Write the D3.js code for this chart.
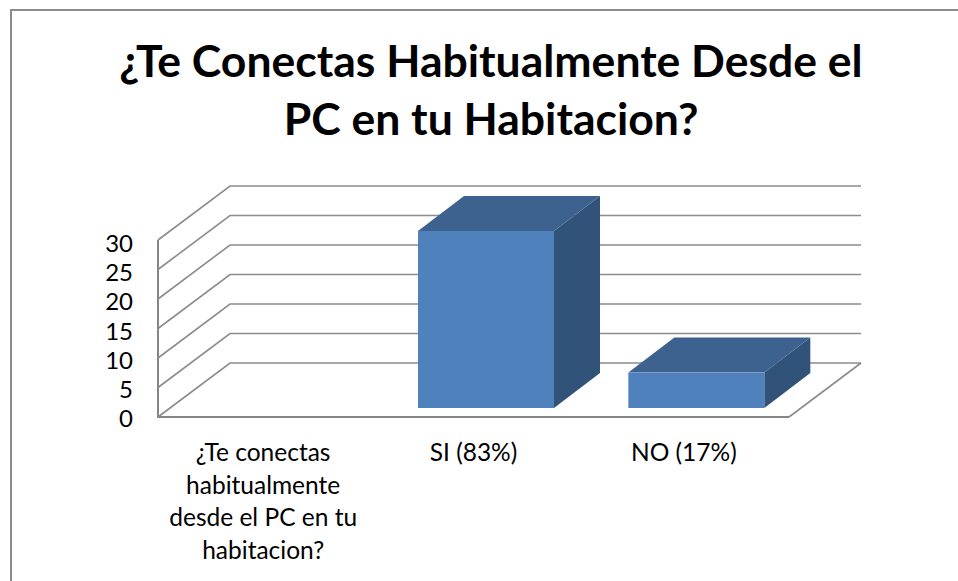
<!DOCTYPE html>
<html>
<head>
<meta charset="utf-8">
<script src="https://cdn.jsdelivr.net/npm/d3@7"></script>
<style>
    html, body { margin: 0; padding: 0; background: #fff; }
    text { font-family: Lato, "Open Sans", sans-serif; fill: #000; }
</style>
</head>
<body>
<div id="chart"></div>
<script>
// Valeurs
const categories = ["¿Te conectas habitualmente desde el PC en tu habitacion?", "SI (83%)", "NO (17%)"];
const values = [0, 30, 6];
const yTicks = [0, 5, 10, 15, 20, 25, 30];
const titleLines = ["¿Te Conectas Habitualmente Desde el", "PC en tu Habitacion?"];
const categoryLines = [["¿Te conectas", "habitualmente", "desde el PC en tu", "habitacion?"], ["SI (83%)"], ["NO (17%)"]];

var width = 958,
    height = 581;

// Configuration de la fausse 3D
var depthX = 72,
    depthY = -54,
    floorLeft = 158,
    floorRight = 789,
    floorY = 417,
    topY = 240;

// Decalage et profondeur des barres
var barOffsetX = 12.5,
    barOffsetY = -9,
    barDepthX = 46,
    barDepthY = -35;

var x = d3.scaleBand().domain(categories).range([floorLeft, floorRight]);
var y = d3.scaleLinear().domain([0, 30]).range([floorY, topY]);
var yLabel = d3.scaleLinear().domain([0, 30]).range([427, 252]);
var barWidth = 136;

var svg = d3.select("#chart")
    .append("svg")
    .attr("width", width)
    .attr("height", height)
    .style("display", "block");

// Cadre (pas de bord droit ni bas dans l'image)
svg.append("path")
    .attr("d", "M11,581V10H958")
    .attr("fill", "none")
    .attr("stroke", "#8c8c8c")
    .attr("stroke-width", 2);

// Titre
svg.append("text")
    .attr("text-anchor", "middle")
    .style("font-weight", "bold")
    .style("font-size", "44.5px")
    .selectAll("tspan")
    .data(titleLines)
    .enter()
    .append("tspan")
    .attr("x", 491)
    .attr("y", (d, i) => 77 + i * 58)
    .text(d => d);

// Grille : mur gauche et mur du fond
var grid = svg.append("g").attr("fill", "none").attr("stroke", "#8c8c8c").attr("stroke-width", 1.6);

grid.selectAll("polyline")
    .data(yTicks)
    .enter()
    .append("polyline")
    .attr("points", d => [
        [floorLeft, y(d)],
        [floorLeft + depthX, y(d) + depthY],
        [floorRight + depthX, y(d) + depthY]
    ].join(" "));

// Bord droit du sol
grid.append("line")
    .attr("x1", floorRight)
    .attr("y1", floorY)
    .attr("x2", floorRight + depthX)
    .attr("y2", floorY + depthY);

// Axes
svg.append("path")
    .attr("d", `M${floorLeft},${y(30)}V${floorY}H${floorRight}`)
    .attr("fill", "none")
    .attr("stroke", "#868686")
    .attr("stroke-width", 2);

// Barres
var bars = svg.selectAll("g.bar")
    .data(categories.map((c, i) => ({ key: c, value: values[i] })).filter(d => d.value > 0))
    .enter()
    .append("g")
    .attr("class", "bar");

function barLeft(d) {
    return x(d.key) + (x.bandwidth() - barWidth) / 2 + barOffsetX;
}

// Face de droite
bars.append("path")
    .attr("fill", "#325379")
    .attr("d", function(d) {
        var r = barLeft(d) + barWidth, b = y(0) + barOffsetY, t = y(d.value) + barOffsetY;
        return `M${r},${b}V${t}l${barDepthX},${barDepthY}V${b + barDepthY}Z`;
    });

// Face du dessus
bars.append("path")
    .attr("fill", "#3d628f")
    .attr("d", function(d) {
        var l = barLeft(d), t = y(d.value) + barOffsetY;
        return `M${l},${t}l${barDepthX},${barDepthY}h${barWidth}l${-barDepthX},${-barDepthY}Z`;
    });

// Face avant
bars.append("rect")
    .attr("fill", "#4f81bd")
    .attr("x", d => barLeft(d))
    .attr("y", d => y(d.value) + barOffsetY)
    .attr("width", barWidth)
    .attr("height", d => y(0) - y(d.value));

// Graduations
svg.selectAll("text.tick")
    .data(yTicks)
    .enter()
    .append("text")
    .attr("class", "tick")
    .attr("x", 133)
    .attr("y", d => yLabel(d))
    .attr("text-anchor", "end")
    .style("font-size", "24px")
    .text(d => d);

// Categories
var labels = svg.selectAll("text.cat")
    .data(categories)
    .enter()
    .append("text")
    .attr("class", "cat")
    .attr("text-anchor", "middle")
    .style("font-size", "24.5px");

labels.selectAll("tspan")
    .data((d, i) => categoryLines[i].map(line => ({ key: d, line: line })))
    .enter()
    .append("tspan")
    .attr("x", d => x(d.key) + x.bandwidth() / 2)
    .attr("y", (d, i) => 461 + i * 32.5)
    .text(d => d.line);
</script>
</body>
</html>
